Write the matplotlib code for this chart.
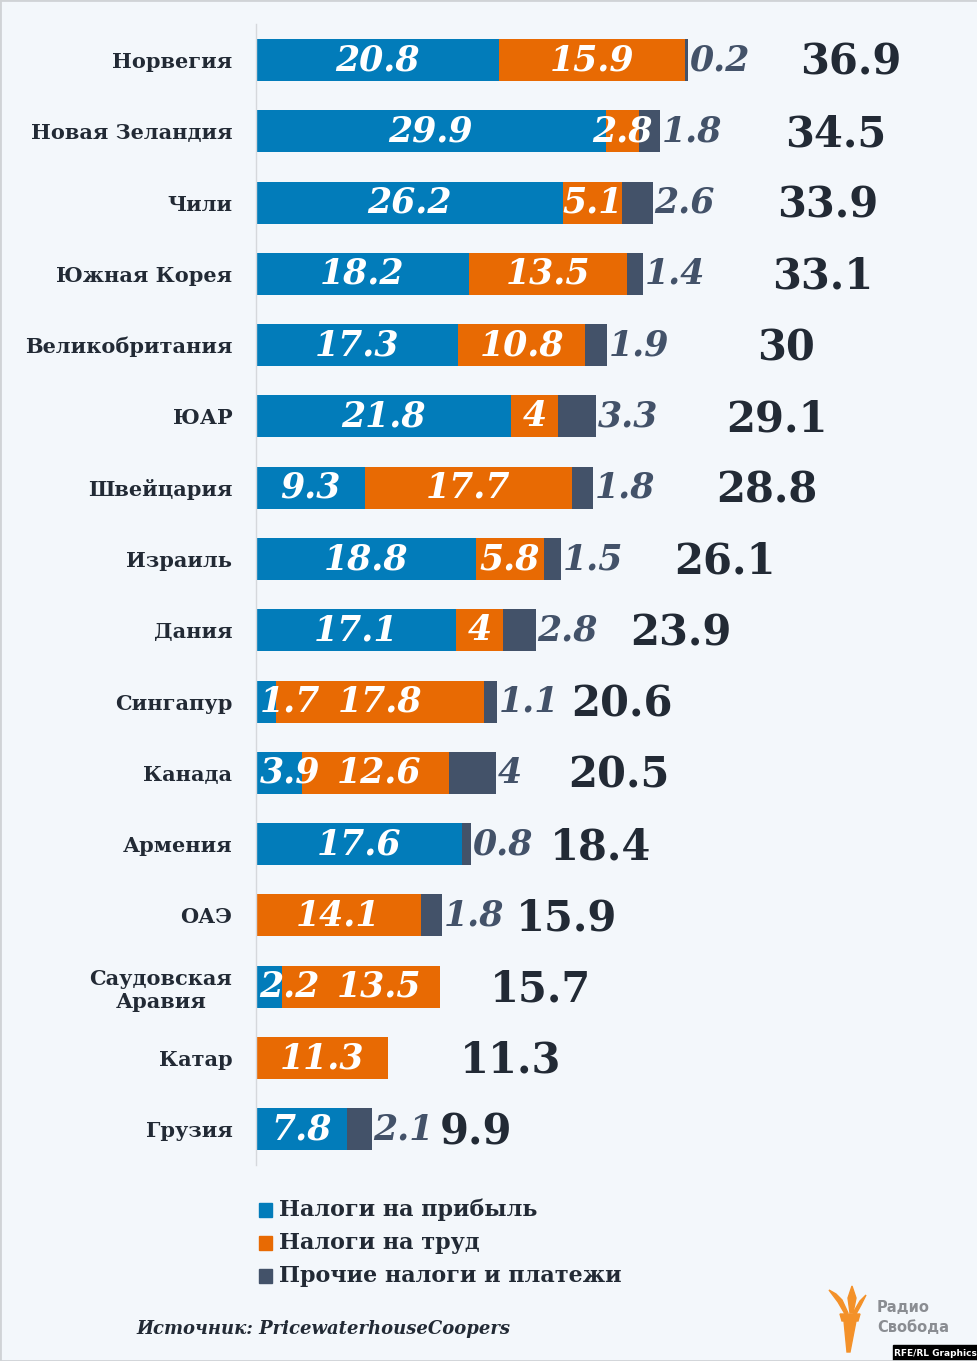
import matplotlib

matplotlib.use("Agg")
import matplotlib.pyplot as plt
import numpy as np
from matplotlib.patches import Polygon, Rectangle

W, H = 978, 1361
BG = "#f3f7fb"
C_PROFIT, C_LABOUR, C_OTHER = "#027cba", "#e86a03", "#435269"
C_TOTAL = "#222a35"
SERIF = ["DejaVu Serif Condensed", "DejaVu Serif"]

countries = ["Норвегия", "Новая Зеландия", "Чили", "Южная Корея", "Великобритания",
             "ЮАР", "Швейцария", "Израиль", "Дания", "Сингапур", "Канада", "Армения",
             "ОАЭ", "Саудовская\nАравия", "Катар", "Грузия"]
profit = [20.8, 29.9, 26.2, 18.2, 17.3, 21.8, 9.3, 18.8, 17.1, 1.7, 3.9, 17.6, 0, 2.2, 0, 7.8]
labour = [15.9, 2.8, 5.1, 13.5, 10.8, 4, 17.7, 5.8, 4, 17.8, 12.6, 0, 14.1, 13.5, 11.3, 0]
other = [0.2, 1.8, 2.6, 1.4, 1.9, 3.3, 1.8, 1.5, 2.8, 1.1, 4, 0.8, 1.8, 0, 0, 2.1]
total = [36.9, 34.5, 33.9, 33.1, 30, 29.1, 28.8, 26.1, 23.9, 20.6, 20.5, 18.4, 15.9, 15.7, 11.3, 9.9]
legend_labels = ["Налоги на прибыль", "Налоги на труд", "Прочие налоги и платежи"]
source = "Источник: PricewaterhouseCoopers"

# where the designer put the big totals (gap after bar end, in data units)
total_gap = [9.6, 10.7, 10.6, 11.0, 12.8, 11.1, 10.5, 9.6, 8.1, 6.3, 6.2, 6.7, 6.3, 4.3, 6.1, 5.8]

PX = 11.7  # px per unit


def fx(px):
    return px / W


def fy(py):
    return 1 - py / H


fig = plt.figure(figsize=(W / 100, H / 100), dpi=100, facecolor=BG)
ax = fig.add_axes([fx(256), fy(1165), fx(W - 256), (1165 - 24) / H])
ax.set_facecolor("none")
ax.set_xlim(0, (W - 256) / PX)
ax.set_ylim(15.5, -0.505)

y = np.arange(len(countries))
p, l, o = np.array(profit), np.array(labour), np.array(other)
h = 42 / 71.3
ax.barh(y, p, h, color=C_PROFIT, lw=0)
ax.barh(y, l, h, left=p, color=C_LABOUR, lw=0)
ax.barh(y, o, h, left=p + l, color=C_OTHER, lw=0)

num_kw = dict(fontsize=25, fontweight="bold", style="italic", family=SERIF, va="center")
for i in y:
    if p[i] > 0:
        if p[i] < 5:
            ax.text(0.3, i, f"{p[i]:g}", color="white", ha="left", **num_kw)
        else:
            ax.text(p[i] / 2, i, f"{p[i]:g}", color="white", ha="center", **num_kw)
    if l[i] > 0:
        xc = p[i] + l[i] / 2
        if 0 < p[i] < 5:
            xc = max(xc, 10.5)  # keep clear of the small first label
        ax.text(xc, i, f"{l[i]:g}", color="white", ha="center", **num_kw)
    end = p[i] + l[i] + o[i]
    if o[i] > 0:
        ax.text(end + 0.15, i, f"{o[i]:g}", color=C_OTHER, ha="left", **num_kw)
    ax.text(end + total_gap[i], i + 0.04, f"{total[i]:g}", color=C_TOTAL, ha="left", va="center",
            fontsize=30, fontweight="bold", family=SERIF)

ax.set_yticks(y)
ax.set_yticklabels(countries, fontsize=15, fontweight="bold", family=SERIF, color=C_TOTAL,
                   multialignment="center")
ax.tick_params(axis="y", length=0, pad=17)
ax.set_xticks([])
for s in ("top", "right", "bottom"):
    ax.spines[s].set_visible(False)
ax.spines["left"].set_color("#d5d8dc")
ax.spines["left"].set_linewidth(1)

# legend
for k, (lbl, c) in enumerate(zip(legend_labels, [C_PROFIT, C_LABOUR, C_OTHER])):
    yy = 1210 + k * 33
    fig.patches.append(Rectangle((fx(259), fy(yy + 7)), fx(13), 14 / H, color=c,
                                 transform=fig.transFigure))
    fig.text(fx(279), fy(yy), lbl, fontsize=16, fontweight="bold", family=SERIF,
             color=C_TOTAL, va="center")

fig.text(fx(136), fy(1329), source, fontsize=13, fontweight="bold", style="italic",
         family=SERIF, color=C_TOTAL, va="center")

# Radio Svoboda logo
torch = "#f39129"
shapes = [
    [(840, 1314), (860, 1314), (858, 1321), (842, 1321)],
    [(844, 1321), (856, 1321), (850, 1352), (847, 1352)],
    [(848, 1313), (842, 1300), (836, 1294), (829, 1290), (838, 1302), (845, 1314)],
    [(850, 1313), (848, 1298), (852, 1286), (856, 1298), (853, 1313)],
    [(853, 1313), (860, 1301), (866, 1295), (861, 1305), (856, 1314)],
]
for pts in shapes:
    fig.patches.append(Polygon([(fx(a), fy(b)) for a, b in pts], closed=True, color=torch,
                               transform=fig.transFigure))
fig.text(fx(877), fy(1308), "Радио", fontsize=10.5, fontweight="bold", family="DejaVu Sans",
         color="#8a8d92", va="center")
fig.text(fx(877), fy(1328), "Свобода", fontsize=10.5, fontweight="bold", family="DejaVu Sans",
         color="#8a8d92", va="center")
fig.patches.append(Rectangle((fx(893), 0), fx(W - 893), 16 / H, color="black",
                             transform=fig.transFigure))
fig.text(fx(935), fy(1353), "RFE/RL Graphics", fontsize=6.5, fontweight="bold",
         family="DejaVu Sans", color="white", ha="center", va="center")

fig.patches.append(Rectangle((0, 0), 1, 1, fill=False, ec="#d0d3d6", lw=2,
                             transform=fig.transFigure))
fig.savefig("out.png", dpi=100, facecolor=BG)
